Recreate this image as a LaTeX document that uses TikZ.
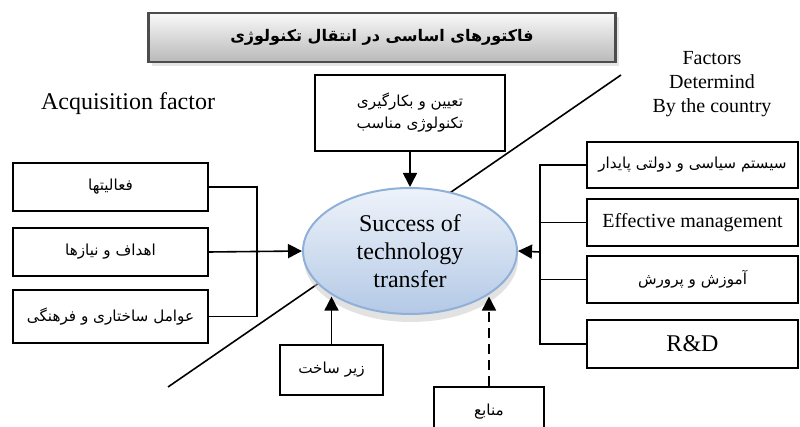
\documentclass[tikz,border=0pt]{standalone}
\usepackage{fontspec}
\setmainfont{Liberation Serif}
\newfontfamily\fafont[Script=Arabic]{DejaVu Sans}
\TeXXeTstate=1
\usetikzlibrary{arrows.meta}
\usetikzlibrary{shapes.geometric}
\usetikzlibrary{shadows}

\definecolor{ellTop}{HTML}{EEF3FA}
\definecolor{ellBot}{HTML}{B4C9E6}
\definecolor{ellLine}{HTML}{8FB0D9}

\tikzset{
  factor/.style={draw, line width=0.9pt, minimum width=97.5pt, minimum height=24pt,
    inner sep=1pt, font=\fafont\fontsize{7.6}{11}\selectfont},
  arr/.style={-{Triangle[length=7pt,width=7pt]}, line width=0.8pt},
  link/.style={line width=0.8pt},
}

\begin{document}
\begin{tikzpicture}[x=0.5pt, y=-0.5pt]
\clip (0,0) rectangle (800,427);
\fill[white] (0,0) rectangle (800,427);

% dividing line, behind the ellipse
\draw[link] (168,387) -- (621,75);

% title
\node[draw=gray!60!black, line width=1.2pt, top color=gray!5, bottom color=gray!55,
  minimum width=233.5pt, minimum height=24.5pt,
  drop shadow={shadow xshift=1.5pt, shadow yshift=-2pt, fill=gray!40},
  font=\fafont\bfseries\fontsize{8}{11}\selectfont] (head) at (382,37.5)
  {\beginR فاکتورهای اساسی در انتقال تکنولوژی\endR};

\node[font=\fontsize{12}{14}\selectfont] (acq) at (128,104) {Acquisition factor};
\node[align=center, font=\fontsize{10}{12}\selectfont] (ctry) at (712,84)
  {Factors\\Determind\\By the country};

% centre
\node[ellipse, draw=ellLine, line width=1pt, top color=ellTop, bottom color=ellBot,
  minimum width=107pt, minimum height=63pt, inner sep=0pt,
  drop shadow={shadow xshift=0.5pt, shadow yshift=-4pt, fill=gray!45},
  align=center, font=\fontsize{12}{14}\selectfont] (succ) at (410,251)
  {Success of\\technology\\transfer};

\node[factor, minimum width=95pt, minimum height=38pt, align=center] (tech) at (410,113)
  {\beginR تعیین و بکارگیری\endR\\\beginR تکنولوژی مناسب\endR};

% acquisition side
\node[factor] (l1) at (110.5,187) {\beginR فعالیتها\endR};
\node[factor] (l2) at (110.5,252) {\beginR اهداف و نیازها\endR};
\node[factor, minimum height=26.5pt] (l3) at (110.5,316.5) {\beginR عوامل ساختاری و فرهنگی\endR};

% country side
\node[factor, minimum width=105.5pt, minimum height=23pt] (r1) at (692.5,165) {\beginR سیستم سیاسی و دولتی پایدار\endR};
\node[factor, minimum width=105.5pt, minimum height=23.5pt, font=\fontsize{10}{12}\selectfont] (r2) at (692.5,222.5) {Effective management};
\node[factor, minimum width=105.5pt, minimum height=23.5pt] (r3) at (692.5,279.5) {\beginR آموزش و پرورش\endR};
\node[factor, minimum width=105.5pt, minimum height=24pt, font=\fontsize{12}{14}\selectfont] (r4) at (692.5,344) {R\&D};

% bottom
\node[factor, minimum width=51.5pt, minimum height=25pt] (zir) at (331.5,370) {\beginR زیر ساخت\endR};
\node[factor, minimum width=55pt, minimum height=25pt] (res) at (489,412) {\beginR منابع\endR};

% connectors
\coordinate (lj) at (257,252);
\coordinate (rj) at (540,252);
\draw[link] (l1.east) -| (lj) |- (l3.east);
\draw[arr] (l2.east) -- (succ.west);
\draw[link] (r1.west) -| (rj) |- (r4.west);
\foreach \n in {r2,r3}
  \draw[link] (\n.west) -- (\n.west -| rj);
\draw[arr] (rj) -- (succ.east);
\draw[arr] (tech.south) -- (succ.north);
\draw[arr] (zir.north) -- (zir.north |- succ.211);
\draw[arr, dashed, dash pattern=on 5pt off 3pt] (res.north) -- (res.north |- succ.329);

\end{tikzpicture}
\end{document}
